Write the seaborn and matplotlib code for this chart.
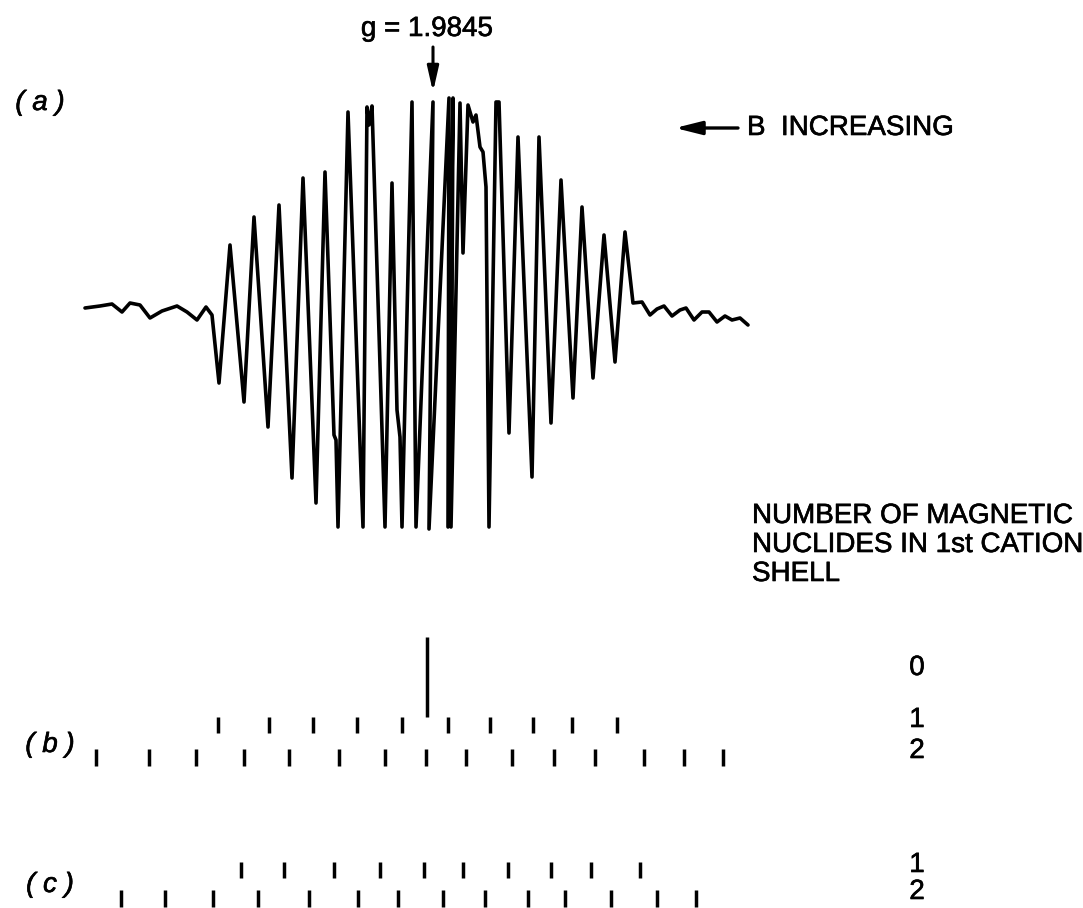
import matplotlib
matplotlib.use("Agg")
import matplotlib.pyplot as plt
import matplotlib.patheffects as pe
import pandas as pd
import seaborn as sns

# ESR derivative trace: field offset from the central line, signal relative to baseline
field = [-342, -327, -315, -305, -297, -287, -277, -265, -250, -240, -230, -221, -215,
         -208, -197, -183, -173, -159, -148, -135, -124, -111, -102, -93, -91, -89,
         -79, -64, -60, -58, -55, -42, -35, -30, -27, -25, -15, -11, 6, 2, 22, 21,
         26, 24, 33, 36, 41, 46, 49, 53, 56, 59, 62, 69, 72, 82, 91, 105, 112, 124,
         134, 146, 155, 166, 177, 188, 198, 206, 215, 223, 230, 237, 245, 253, 259,
         267, 275, 282, 290, 298, 305, 313, 321]
signal = [-1, 1, 3, -5, 4, 2, -11, -4, 1, -5, -13, 0, -8,
          -76, 62, -95, 90, -120, 102, -171, 129, -196, 135, -128, -133, -220,
          195, -220, 200, 182, 201, -220, 124, -103, -130, -220, 205, -220, 205, -222, 209, -220,
          209, -220, 204, 54, 202, 185, 192, 160, 155, 120, -220, 205, 205, -126, 170, -170, 170, -116,
          127, -91, 100, -71, 72, -55, 75, 4, 5, -8, -2, 1, -9, -3, -1,
          -13, -5, -5, -15, -9, -13, -11, -18]

g_label = "g = 1.9845"
g_field = 6

# Stick diagrams: line positions for 0, 1 and 2 magnetic nuclides
b_lines_0 = [0]
b_lines_1 = [-209, -158, -114, -70, -25, 21, 63, 106, 145, 190]
b_lines_2 = [-331, -278, -231, -183, -138, -88, -42, -1, 39, 85, 127, 168, 217, 257, 296]
c_lines_1 = [-186, -143, -93, -47, -3, 36, 81, 124, 164, 213]
c_lines_2 = [-306, -262, -214, -169, -118, -69, -29, 16, 58, 101, 138, 184, 230, 269]
intensity_0 = 5.0
intensity_1 = 1.0
intensity_2 = 1.05

title_lines = ["NUMBER OF MAGNETIC", "NUCLIDES IN 1st CATION", "SHELL"]
panel_labels = ["( a )", "( b )", "( c )"]
b_counts = ["0", "1", "2"]
c_counts = ["1", "2"]
sweep_label = "B  INCREASING"

sns.set_theme(style="white")
plt.rcParams["font.family"] = ["Liberation Sans", "DejaVu Sans"]

W, H = 1083, 908
X0 = 427
fig = plt.figure(figsize=(W / 100, H / 100), dpi=100)
ax = fig.add_axes([0, 0, 1, 1])
ax.set_xlim(-X0, W - X0)
ax.set_ylim(0, H)
ax.set_axis_off()


def down(px):
    return H - px


INK = "#000000"
FS = 20
heavy = [pe.withStroke(linewidth=0.45, foreground=INK)]
text_kw = dict(fontsize=FS, color=INK, path_effects=heavy)

# spectrum
spec = pd.DataFrame({"field": field, "signal": [down(307) + s for s in signal]})
sns.lineplot(data=spec, x="field", y="signal", sort=False, estimator=None,
             color=INK, lw=2.6, ax=ax, solid_joinstyle="round", solid_capstyle="round")

# g marker
ax.text(0, down(29), g_label, ha="center", va="center", **text_kw)
ax.annotate("", xy=(g_field, down(92)), xytext=(g_field, down(47)),
            arrowprops=dict(arrowstyle="-|>,head_length=0.75,head_width=0.17",
                            color=INK, lw=2.2, shrinkA=0, shrinkB=0, mutation_scale=20))

# sweep direction
ax.annotate("", xy=(675 - X0, down(128)), xytext=(738 - X0, down(128)),
            arrowprops=dict(arrowstyle="-|>,head_length=0.8,head_width=0.2",
                            color=INK, lw=2.4, shrinkA=0, shrinkB=0, mutation_scale=20))
ax.text(747 - X0, down(128), sweep_label, ha="left", va="center", **text_kw)

# stick diagrams
unit = 16
stick_kw = dict(colors=INK, lw=2.5)
ax.vlines(b_lines_0, down(717), down(717) + intensity_0 * unit, **stick_kw)
ax.vlines(b_lines_1, down(733), down(733) + intensity_1 * unit, **stick_kw)
ax.vlines(b_lines_2, down(766), down(766) + intensity_2 * unit, **stick_kw)
ax.vlines(c_lines_1, down(878), down(878) + intensity_1 * unit, **stick_kw)
ax.vlines(c_lines_2, down(907), down(907) + intensity_2 * unit, **stick_kw)

# legend block
for i, line in enumerate(title_lines):
    ax.text(752 - X0, down(516 + 29 * i), line, ha="left", va="center", **text_kw)
for lab, y in zip(b_counts, [668, 720, 751]):
    ax.text(917 - X0, down(y), lab, ha="center", va="center", **text_kw)
for lab, y in zip(c_counts, [865, 892]):
    ax.text(917 - X0, down(y), lab, ha="center", va="center", **text_kw)

# panel labels
for lab, (x, y) in zip(panel_labels, [(40, 103), (50, 745), (50, 885)]):
    ax.text(x - X0, down(y), lab, ha="center", va="center", style="italic", **text_kw)

fig.savefig("out.png", dpi=100, facecolor="white")
